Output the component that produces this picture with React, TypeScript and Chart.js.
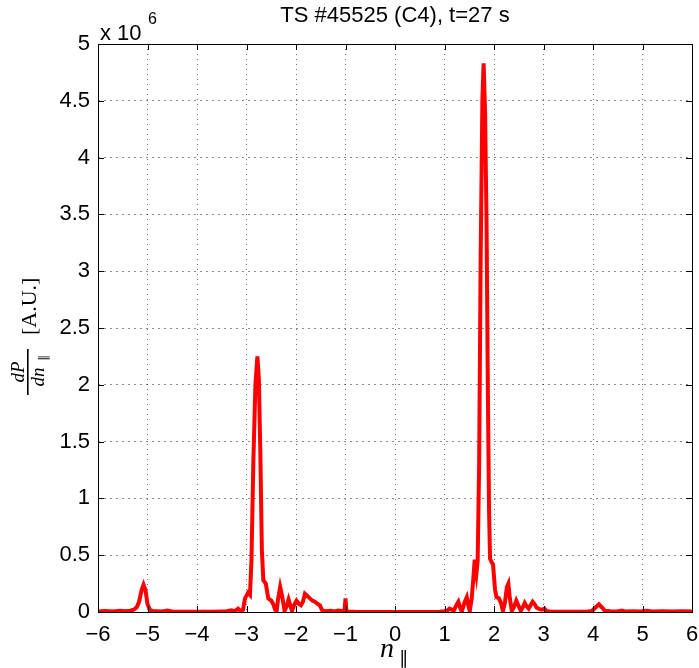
import React, { useEffect, useRef } from "react";
import { Chart, registerables } from "chart.js";

Chart.register(...registerables);

const chartTitle = "TS #45525 (C4), t=27 s";
const xTickValues = [-6, -5, -4, -3, -2, -1, 0, 1, 2, 3, 4, 5, 6];
const yTickValues = [0, 0.5, 1, 1.5, 2, 2.5, 3, 3.5, 4, 4.5, 5];

// n_parallel values
const nParallel = [
  -6.0, -5.85, -5.7, -5.55, -5.45, -5.35, -5.28, -5.22, -5.17, -5.12, -5.08, -5.04, -5.0, -4.95, -4.9,
  -4.8, -4.7, -4.6, -4.5, -4.3, -4.0, -3.7, -3.5, -3.4, -3.3, -3.24, -3.17, -3.12, -3.07, -3.03,
  -2.97, -2.93, -2.9, -2.86, -2.82, -2.78, -2.75, -2.72, -2.69, -2.66, -2.61, -2.56, -2.5, -2.46,
  -2.42, -2.39, -2.36, -2.32, -2.28, -2.23, -2.19, -2.15, -2.11, -2.08, -2.03, -1.99, -1.94, -1.9,
  -1.86, -1.82, -1.77, -1.72, -1.67, -1.62, -1.56, -1.52, -1.47, -1.4, -1.3, -1.22, -1.15, -1.05,
  -1.02, -1.0, -0.98, -0.8, -0.5, 0.0, 0.5, 0.9, 1.0, 1.05, 1.1, 1.15, 1.18, 1.24, 1.28, 1.32, 1.35,
  1.41, 1.45, 1.48, 1.51, 1.55, 1.58, 1.61, 1.645, 1.67, 1.7, 1.73, 1.765, 1.79, 1.82, 1.85, 1.875,
  1.9, 1.92, 1.95, 1.98, 2.02, 2.05, 2.1, 2.14, 2.18, 2.22, 2.26, 2.29, 2.32, 2.36, 2.4, 2.45, 2.5,
  2.54, 2.58, 2.62, 2.66, 2.7, 2.74, 2.78, 2.82, 2.86, 2.92, 2.97, 3.02, 3.06, 3.12, 3.3, 3.6, 3.9,
  3.98, 4.05, 4.12, 4.18, 4.24, 4.35, 4.5, 4.58, 4.65, 4.8, 4.95, 5.08, 5.2, 5.4, 5.6, 5.8, 6.0,
];

// dP/dn_parallel in units of 10^6 A.U.
const powerMillions = [
  0.005, 0.008, 0.004, 0.01, 0.006, 0.012, 0.02, 0.04, 0.09, 0.19, 0.24, 0.19, 0.07, 0.02, 0.008,
  0.006, 0.004, 0.012, 0.004, 0.003, 0.002, 0.003, 0.005, 0.006, 0.015, 0.006, 0.03, 0.008, 0.02, 0.12,
  0.17, 0.15, 0.45, 1.35, 2.0, 2.25, 2.05, 1.4, 0.55, 0.28, 0.25, 0.12, 0.1, 0.07,
  0.02, 0.01, 0.12, 0.22, 0.14, 0.01, 0.05, 0.11, 0.05, 0.01, 0.07, 0.1, 0.07, 0.06,
  0.09, 0.16, 0.14, 0.12, 0.1, 0.09, 0.07, 0.06, 0.015, 0.006, 0.01, 0.004, 0.012, 0.006,
  0.01, 0.12, 0.005, 0.002, 0.001, 0.001, 0.001, 0.003, 0.006, 0.01, 0.03, 0.02, 0.005, 0.06, 0.09, 0.03, 0.006,
  0.09, 0.13, 0.06, 0.008, 0.12, 0.28, 0.46, 0.34, 0.45, 1.3, 3.1, 4.5, 4.83, 4.4, 3.4, 2.0,
  0.9, 0.47, 0.44, 0.42, 0.2, 0.13, 0.12, 0.08, 0.01, 0.08, 0.22, 0.25, 0.12, 0.01, 0.04, 0.1, 0.05,
  0.01, 0.04, 0.08, 0.05, 0.03, 0.06, 0.09, 0.07, 0.04, 0.025, 0.02, 0.03, 0.01, 0.004, 0.003, 0.003, 0.004,
  0.01, 0.04, 0.068, 0.04, 0.01, 0.006, 0.004, 0.012, 0.005, 0.006, 0.004, 0.01, 0.005, 0.006, 0.004, 0.007, 0.005,
];

const SANS = '"Liberation Sans", Arial, Helvetica, sans-serif';
const SERIF = '"Liberation Serif", "DejaVu Serif", serif';

const decorPlugin = {
  id: "matlabDecor",
  afterDraw(chart: any) {
    const { ctx, chartArea } = chart;
    const { left, right, top, bottom } = chartArea;
    const xs = chart.scales.x;
    const ys = chart.scales.y;
    ctx.save();
    // box
    ctx.strokeStyle = "#000";
    ctx.lineWidth = 1;
    ctx.strokeRect(Math.round(left) + 0.5, Math.round(top) + 0.5, Math.round(right - left), Math.round(bottom - top));
    // inward ticks
    const tl = 6;
    ctx.beginPath();
    for (const v of xTickValues) {
      const px = Math.round(xs.getPixelForValue(v)) + 0.5;
      ctx.moveTo(px, bottom);
      ctx.lineTo(px, bottom - tl);
      ctx.moveTo(px, top);
      ctx.lineTo(px, top + tl);
    }
    for (const v of yTickValues) {
      const py = Math.round(ys.getPixelForValue(v)) + 0.5;
      ctx.moveTo(left, py);
      ctx.lineTo(left + tl, py);
      ctx.moveTo(right, py);
      ctx.lineTo(right - tl, py);
    }
    ctx.stroke();

    ctx.fillStyle = "#000";
    // title
    ctx.font = `22px ${SANS}`;
    ctx.textAlign = "center";
    ctx.textBaseline = "middle";
    ctx.fillText(chartTitle, (left + right) / 2, 16);

    // exponent x 10^6
    ctx.textAlign = "left";
    ctx.textBaseline = "alphabetic";
    ctx.font = `22px ${SANS}`;
    ctx.fillText("x 10", left + 2, 40);
    ctx.font = `16px ${SANS}`;
    ctx.fillText("6", left + 50, 24);

    // x label n_parallel
    ctx.font = `italic 28px ${SERIF}`;
    ctx.textBaseline = "alphabetic";
    ctx.fillText("n", 380, 657);
    ctx.font = `18px ${"DejaVu Sans"}, sans-serif`;
    ctx.fillText("\u2225", 399, 664);

    // y label: dP/dn_parallel [A.U.]
    ctx.translate(29, 330);
    ctx.rotate(-Math.PI / 2);
    const fx = -42;
    ctx.font = `italic 19px ${SERIF}`;
    ctx.textAlign = "center";
    ctx.textBaseline = "alphabetic";
    ctx.fillText("dP", fx, -5);
    ctx.fillText("dn", fx - 5, 15);
    ctx.font = `12px ${"DejaVu Sans"}, sans-serif`;
    ctx.fillText("\u2225", fx + 14, 18);
    ctx.fillRect(fx - 23, -2, 46, 1.6);
    ctx.font = `22px ${SERIF}`;
    ctx.textAlign = "left";
    ctx.fillText("[A.U.]", -5, 7);
    ctx.restore();
  },
};

export default function App() {
  const ref = useRef<HTMLCanvasElement>(null);
  useEffect(() => {
    document.body.style.margin = "0";
    const canvas = ref.current;
    if (!canvas) return;
    const points = nParallel.map((x, i) => ({ x, y: powerMillions[i] }));
    const chart = new Chart(canvas, {
      type: "line",
      data: {
        datasets: [
          {
            data: points,
            borderColor: "#ff0000",
            borderWidth: 4,
            pointRadius: 0,
            tension: 0,
            fill: false,
          },
        ],
      },
      options: {
        animation: false,
        responsive: false,
        events: [],
        layout: { padding: { top: 44, right: 7, left: 0, bottom: 0 } },
        plugins: { legend: { display: false }, tooltip: { enabled: false }, title: { display: false } },
        scales: {
          x: {
            type: "linear",
            min: -6,
            max: 6,
            afterFit(scale: any) {
              scale.height = 56;
              scale.paddingLeft = 0;
              scale.paddingRight = 0;
            },
            afterBuildTicks(scale: any) {
              scale.ticks = xTickValues.map((v) => ({ value: v }));
            },
            ticks: {
              autoSkip: false,
              maxRotation: 0,
              padding: 10,
              color: "#000",
              font: { family: SANS, size: 22 },
              callback: (v: any) => String(v).replace("-", "\u2212"),
            },
            grid: { color: "rgba(0,0,0,0.55)", lineWidth: 1, drawTicks: false },
            border: { display: false, dash: [1, 4] },
          },
          y: {
            type: "linear",
            min: 0,
            max: 5,
            afterFit(scale: any) {
              scale.width = 98;
              scale.paddingTop = 0;
              scale.paddingBottom = 0;
            },
            afterBuildTicks(scale: any) {
              scale.ticks = yTickValues.map((v) => ({ value: v }));
            },
            ticks: {
              autoSkip: false,
              padding: 8,
              color: "#000",
              font: { family: SANS, size: 22 },
              callback: (v: any) => String(v),
            },
            grid: { color: "rgba(0,0,0,0.45)", lineWidth: 1, drawTicks: false },
            border: { display: false, dash: [2, 4] },
          },
        },
      },
      plugins: [decorPlugin],
    });
    return () => chart.destroy();
  }, []);
  return <canvas ref={ref} width={699} height={668} style={{ display: "block" }} />;
}
